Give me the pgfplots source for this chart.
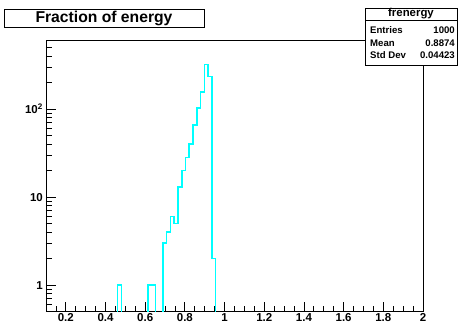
\documentclass[border=0pt]{standalone}
\usepackage{fontspec}
\setmainfont{Liberation Sans}
\usepackage{pgfplots}
\pgfplotsset{compat=1.18}
\definecolor{histcyan}{RGB}{0,255,255}

\begin{document}
\begin{tikzpicture}
\path[use as bounding box] (0pt,0pt) rectangle (458pt,326pt);
\begin{axis}[
  at={(46pt,14.3pt)}, anchor=south west,
  scale only axis, width=377pt, height=271pt,
  ymode=log,
  xmin=0.1, xmax=2, ymin=0.5, ymax=596,
  axis line style={line width=0.8pt},
  xtick pos=bottom, ytick pos=left,
  tick align=inside,
  major tick length=10pt, minor tick length=6pt,
  every tick/.style={black, line width=0.8pt},
  xtick={0.2,0.4,0.6,0.8,1,1.2,1.4,1.6,1.8,2},
  xticklabels={0.2,0.4,0.6,0.8,1,1.2,1.4,1.6,1.8,2},
  minor xtick={0.15,0.25,0.3,0.35,0.45,0.5,0.55,0.65,0.7,0.75,0.85,0.9,0.95,
               1.05,1.1,1.15,1.25,1.3,1.35,1.45,1.5,1.55,1.65,1.7,1.75,1.85,1.9,1.95},
  ytick={1,10,100},
  yticklabels={1,10,10\textsuperscript{2}},
  minor ytick={0.5,0.6,0.7,0.8,0.9,2,3,4,5,6,7,8,9,20,30,40,50,60,70,80,90,200,300,400,500},
  /pgf/number format/assume math mode=true,
  ticklabel style={font=\fontsize{11.5}{12}\selectfont\bfseries},
  xticklabel style={inner sep=1pt, yshift=-1pt},
  yticklabel style={inner sep=1pt, xshift=-2pt},
  every axis plot/.append style={line join=miter, line cap=butt},
]
% 100 bins of width 0.019 from 0.1 to 2; empty bins are not drawn
\addplot[const plot, draw=histcyan, line width=1.6pt, no marks]
  coordinates {(0.461,0.5) (0.461,1) (0.480,0.5)};
\addplot[const plot, draw=histcyan, line width=1.6pt, no marks]
  coordinates {(0.613,0.5) (0.613,1) (0.632,1) (0.651,0.5)};
\addplot[const plot, draw=histcyan, line width=1.6pt, no marks]
  coordinates {(0.689,0.5) (0.689,3) (0.708,4) (0.727,6) (0.746,5) (0.765,13)
               (0.784,20) (0.803,28) (0.822,40) (0.841,66) (0.860,103) (0.879,155)
               (0.898,320) (0.917,235) (0.936,2) (0.955,0.5)};
\end{axis}

% title box
\draw[line width=0.8pt, fill=white] (4pt,299pt) rectangle (204pt,317pt);
\node at (104pt,308pt) {\fontsize{15.7}{16}\selectfont\bfseries Fraction of energy};

% statistics box
\draw[line width=0.8pt, fill=white] (365pt,261pt) rectangle (457pt,318pt);
\draw[line width=0.6pt] (365pt,306pt) -- (457pt,306pt);
\node at (411pt,312.5pt) {\fontsize{11.4}{12}\selectfont\bfseries frenergy};
\begin{scope}[every node/.style={font=\fontsize{9.6}{10}\selectfont\bfseries, inner sep=0pt}]
\node[anchor=west] at (370pt,296pt) {Entries};
\node[anchor=east] at (455pt,296pt) {1000};
\node[anchor=west] at (370pt,283pt) {Mean};
\node[anchor=east] at (455pt,283pt) {0.8874};
\node[anchor=west] at (370pt,270.5pt) {Std Dev};
\node[anchor=east] at (455pt,270.5pt) {0.04423};
\end{scope}
\end{tikzpicture}
\end{document}
